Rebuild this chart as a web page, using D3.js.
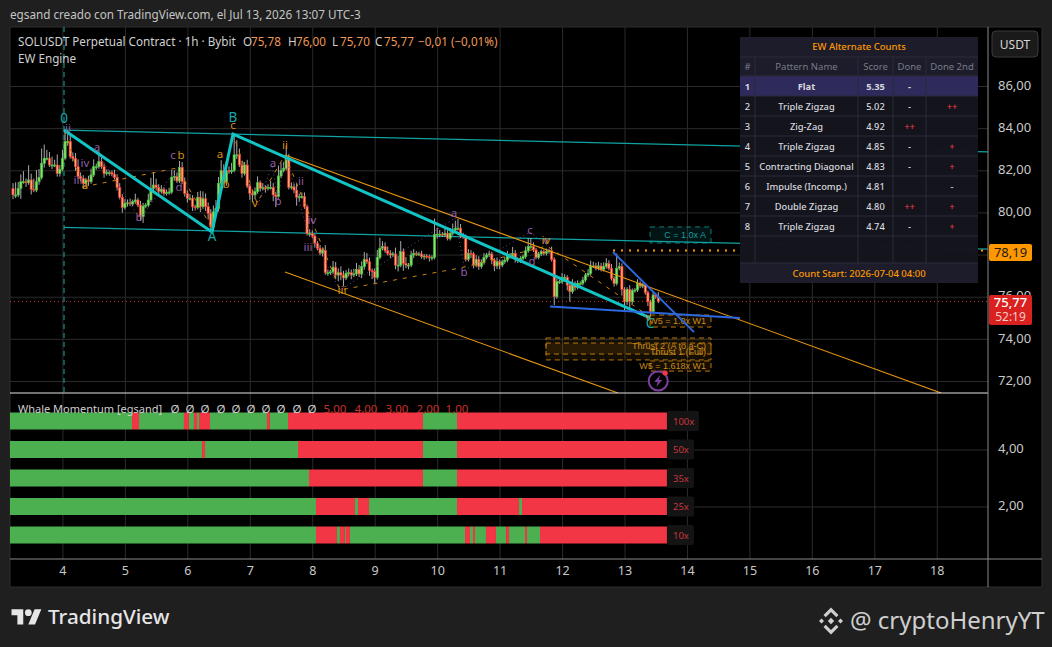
<!DOCTYPE html>
<html lang="es">
<head>
  <meta charset="UTF-8">
  <title>SOLUSDT Perpetual Contract</title>
  <style>
    html, body { margin: 0; padding: 0; background: #1f1f1f; }
    svg { display: block; }
    text { font-family: "Noto Sans", sans-serif; }
  </style>
</head>
<body>
  <svg id="chart" width="1052" height="647"></svg>
  <script src="https://cdnjs.cloudflare.com/ajax/libs/d3/7.8.5/d3.min.js"></script>
  <script>
    // Hourly candles. Open is the previous close.
    const firstDay = 3 + 5 / 24
    const firstOpen = 81.14
    const closes = [
      80.83,80.83,81.14,81.46,81.46,81.41,81.54,81.1,81.06,81.46,81.66,82.33,
      82.57,82.57,82.25,82.25,82.25,81.85,82.05,82.57,83.36,83.36,82.65,82.57,
      82.17,81.7,81.62,81.38,81.54,81.46,81.78,82.17,82.17,82.41,82.17,81.85,
      81.89,81.89,81.82,81.66,81.19,80.72,80.24,80.43,80.46,80.4,80.51,80.59,
      80.35,79.8,80.3,80.35,80.59,81.14,81.3,81.19,80.99,81.1,80.9,80.94,
      80.97,81.66,81.7,81.49,82.14,81.46,80.9,80.67,80.67,80.27,80.24,80.72,
      80.27,80.65,80.27,79.96,79.32,80.03,80.19,81.38,81.98,81.46,81.98,81.93,
      82.0,82.73,82.73,82.25,81.85,82.25,81.25,80.9,80.83,80.99,81.41,81.14,
      81.19,81.14,81.19,81.19,80.83,80.75,81.73,82.0,82.09,82.57,81.19,81.22,
      81.06,80.72,80.75,80.75,80.27,79.0,79.0,78.88,78.53,78.3,78.07,78.2,
      77.14,77.14,77.18,77.4,77.03,77.14,77.03,76.89,77.11,77.14,77.03,77.08,
      77.3,77.08,77.43,77.77,77.66,77.24,77.19,76.92,77.87,78.3,78.38,78.18,
      78.06,77.98,78.03,77.5,77.5,78.14,77.58,77.5,77.5,77.98,78.06,78.03,
      78.03,77.9,77.93,77.9,77.87,77.87,78.96,78.97,78.97,78.93,79.01,78.77,
      79.01,79.17,79.25,79.25,78.88,78.85,77.77,78.06,78.03,77.5,77.77,77.43,
      77.62,77.87,77.98,78.03,77.74,77.46,77.66,77.5,77.66,77.74,77.98,77.9,
      78.06,77.77,77.7,77.82,77.9,78.18,78.38,78.38,78.22,77.87,78.03,78.14,
      78.06,78.14,78.18,77.77,76.0,76.71,76.71,76.92,76.92,76.55,76.24,76.63,
      76.44,76.63,76.63,76.79,77.03,77.11,77.46,77.46,77.35,77.46,77.3,77.43,
      77.58,77.35,76.87,76.63,77.35,77.43,76.35,75.76,76.35,75.76,76.29,76.32,
      76.63,76.51,76.55,76.19,75.76,75.29,76.08,76.0,75.77
    ]
    const wickUp = [
      .25,.6,.3,.35,.5,.15,.7,.3,.5,.55,.4,.7,
      .65,.4,.3,.4,.25,.5,.2,.4,.55,.35,.3,.2,
      .25,.35,.2,.15,.1,.2,.3,.35,.15,.5,.2,.15,
      .15,.1,.1,.2,.15,.2,.15,.2,.15,.2,.1,.3,
      .1,.2,.15,.1,.3,.5,.6,.3,.15,.2,.1,.15,
      .2,.35,.3,.2,.3,.25,.2,.15,.2,.15,.1,.25,
      .3,.35,.25,.2,.2,.3,.4,.3,.5,.3,.25,.2,
      .35,.97,.7,.3,.2,.15,.25,.1,.15,.2,.3,.1,
      .2,.1,.15,.3,.2,.15,.5,.35,.3,.6,.2,.2,
      .15,.3,.15,.2,.2,.1,.2,.15,.1,.1,.15,.1,
      .25,.15,.1,.3,.25,.2,.3,.2,.15,.2,.15,.25,
      .3,.2,.25,.35,.3,.2,.1,.15,.35,.5,.25,.2,
      .2,.15,.1,.3,.45,.5,.15,.3,.1,.2,.2,.1,
      .1,.15,.1,.1,.1,.1,.75,.3,.2,.1,.3,.15,
      .25,.3,.35,.45,.2,.15,.1,.2,.15,.1,.2,.15,
      .15,.2,.1,.15,.1,.1,.2,.1,.1,.15,.2,.1,
      .3,.15,.1,.1,.1,.2,.4,.4,.2,.1,.1,.1,
      .1,.15,.1,.2,.1,.15,.1,.2,.15,.1,.1,.2,
      .1,.15,.1,.15,.1,.2,.25,.2,.15,.2,.15,.2,
      .25,.15,.2,.1,.7,.2,.15,.1,.1,.2,.1,.1,
      .2,.1,.1,.1,.1,.1,.15,.1,.23
    ]
    const wickDown = [
      .2,.15,.1,.5,.1,.2,.1,.25,.1,.1,.15,.1,
      .2,.1,.1,.2,.1,.15,.15,.1,.1,.2,.1,.15,
      .2,.1,.15,.25,.1,.2,.1,.1,.15,.1,.1,.2,
      .1,.15,.1,.1,.15,.1,.25,.1,.15,.1,.1,.1,
      .1,.2,.3,.1,.1,.1,.2,.15,.2,.1,.1,.1,
      .1,.1,.15,.1,.1,.1,.15,.2,.1,.2,.15,.1,
      .25,.1,.2,.3,.25,.2,.2,.15,.1,.1,.2,.1,
      .1,.1,.2,.1,.2,.1,.1,.3,.35,.2,.1,.15,
      .1,.2,.1,.1,.3,.5,.1,.1,.1,.1,.1,.1,
      .15,.4,.2,.1,.1,.1,.15,.1,.2,.1,.1,.15,
      .1,.15,.1,.1,.2,.3,.25,.4,.1,.15,.2,.1,
      .1,.15,.2,.15,.1,.25,.35,.3,.1,.1,.1,.1,
      .1,.15,.1,.2,.3,.1,.35,.15,.2,.1,.15,.1,
      .1,.1,.15,.1,.2,.15,.1,.2,.15,.1,.1,.1,
      .1,.1,.1,.1,.1,.1,.1,.1,.2,.15,.1,.15,
      .1,.1,.1,.1,.2,.25,.15,.2,.1,.1,.1,.1,
      .1,.15,.1,.1,.1,.1,.1,.1,.1,.1,.1,.1,
      .1,.1,.1,.1,.4,.1,.1,.1,.1,.25,.48,.1,
      .15,.1,.1,.1,.1,.1,.1,.1,.1,.1,.1,.1,
      .1,.1,.1,.15,.1,.1,.3,.4,.15,.3,.1,.1,
      .1,.1,.1,.1,.2,.15,.1,.1,.07
    ]

    // Axis ticks
    const dayTicks = d3.range(4, 19)
    const priceTicks = [72, 74, 76, 78, 80, 82, 84, 86]
    const whaleTicks = [2, 4]

    // Whale Momentum rows: start day of each stretch, green first, colours alternate
    const whaleLevels = [5, 4, 3, 2, 1]
    const whaleNames = ['100x', '50x', '35x', '25x', '10x']
    const whaleFlips = [
      [3.16, 5.114, 5.226, 5.946, 6.026, 6.106, 6.155, 6.187, 6.363, 7.275, 7.323, 7.612, 9.773, 10.318, 13.68],
      [3.16, 6.235, 6.283, 7.772, 9.773, 10.318, 13.68],
      [3.16, 7.948, 9.773, 10.318, 13.68],
      [3.16, 8.06, 8.685, 8.733, 8.909, 10.318, 11.311, 11.359, 13.68],
      [3.16, 8.06, 8.396, 8.444, 8.524, 8.54, 8.604, 10.446, 10.526, 10.574, 10.606, 10.782, 10.942, 11.103, 11.151, 11.407, 11.439, 11.647, 13.68]
    ]
    const whaleSymbols = ['Ø','Ø','Ø','Ø','Ø','Ø','Ø','Ø','Ø','Ø','5,00','4,00','3,00','2,00','1,00']
    const whaleSymbolX = [175,190,205,221,236,251,266,281,297,312,335,366,397,428,457]

    // Wave structure as [day, price]
    const mainWave = [[4.025, 83.91], [6.395, 79.07], [6.731, 83.72], [13.41, 74.99]]
    const tealUpper = [[4.025, 83.91], [18.82, 82.87]]
    const tealLower = [[4.025, 79.29], [18.82, 78.26]]
    const orangeUpper = [[7.564, 82.73], [18.07, 71.43]]
    const orangeLower = [[7.564, 77.17], [12.896, 71.43]]
    const blueBase = [[11.807, 75.53], [14.85, 74.99]]
    const blueTop = [[12.816, 78.12], [14.113, 74.32]]
    const minorOrange = [[4.025,83.91],[4.329,81.21],[5.834,82.11],[6.395,79.26],[6.555,81.54],[6.731,83.72],[7.115,80.45],[7.564,82.73],[8.444,76.32],[10.366,77.36],[11.759,78.41],[13.41,75.04]]
    const minorPurple = [
      [[4.025,83.91],[4.553,82.87],[5.242,79.69],[5.834,82.11]],
      [[7.131,80.35],[7.356,82.25],[7.452,80.59],[7.564,82.73],[7.9,79.4],[8.444,76.32]],
      [[8.444,76.32],[10.286,79.73],[10.446,77.27],[11.487,79.07],[11.759,78.45]]
    ]

    // Wave labels as [text, day, price]
    const cyanLabels = [['0',4.025,84.48],['B',6.731,84.53],['A',6.395,78.88],['C',13.41,74.75]]
    const orangeLabels = [['c',6.731,84.15],['a',4.361,81.3],['b',5.898,82.73],['a',6.523,82.77],['b',6.619,81.35],['ii',7.564,83.2],['v',7.083,80.45],['iii',8.476,76.32],['iv',11.743,78.69],['v',13.376,75.04]]
    const purpleLabels = [['ii',4.089,84.0],['a',4.553,83.1],['iv',4.361,82.35],['iii',4.249,81.54],['b',5.226,79.78],['c',5.77,82.73],['d',5.866,81.2],['a',7.371,82.35],['b',7.452,80.54],['ii',7.82,81.49],['iv',7.996,79.64],['iii',7.932,78.36],['a',10.27,79.97],['b',10.43,77.17],['c',11.487,79.17],['d',11.519,77.7],['v',11.743,78.69]]

    // Target boxes as [text, day from, day to, price top, price bottom]
    const orangeBoxes = [
      ['W5 = 1.0x W1', 13.41, 14.385, 75.13, 74.56],
      ['Thrust 2 (A to a-C)', 11.743, 14.385, 74.04, 73.28],
      ['Thrust 1 (Full)', 11.743, 14.385, 73.8, 73.0],
      ['W5 = 1.618x W1', 13.41, 14.385, 72.95, 72.47]
    ]
    const tealBoxes = [['C = 1.0x A', 13.41, 14.385, 79.31, 78.55]]

    const targetPrice = 78.19
    const targetStartDay = 12.816
    const lastPrice = 75.77
    const countdown = '52:19'

    // Alternate counts table
    const tableHeaders = ['#', 'Pattern Name', 'Score', 'Done', 'Done 2nd']
    const patternNames = ['Flat', 'Triple Zigzag', 'Zig-Zag', 'Triple Zigzag', 'Contracting Diagonal', 'Impulse (Incomp.)', 'Double Zigzag', 'Triple Zigzag']
    const patternScores = ['5.35', '5.02', '4.92', '4.85', '4.83', '4.81', '4.80', '4.74']
    const patternDone = ['-', '-', '++', '-', '-', '', '++', '-']
    const patternDone2 = ['', '++', '', '+', '+', '-', '+', '+']

    const svg = d3.select('#chart')
    const panel = { left: 10, right: 1042, top: 27, bottom: 587, axisX: 988, paneBottom: 393, timeY: 559 }

    const x = d3.scaleLinear().domain([4, 18]).range([62.45, 936.75])
    const y = d3.scaleLinear().domain([86, 72]).range([86, 381])
    const yWhale = d3.scaleLinear().domain([4, 2]).range([449.5, 506.5])
    const comma = d => d.toFixed(2).replace('.', ',')
    const lineOf = d3.line().x(d => x(d[0])).y(d => y(d[1]))

    // Panel
    svg.append('rect').attr('width', 1052).attr('height', 647).attr('fill', '#1f1f1f')
    svg.append('rect')
      .attr('x', panel.left).attr('y', panel.top)
      .attr('width', panel.right - panel.left).attr('height', panel.bottom - panel.top)
      .attr('fill', '#000').attr('stroke', '#2e2e2e')

    const defs = svg.append('defs')
    defs.append('clipPath').attr('id', 'mainClip').append('rect')
      .attr('x', panel.left).attr('y', panel.top)
      .attr('width', panel.axisX - panel.left).attr('height', panel.paneBottom - panel.top)
    defs.append('clipPath').attr('id', 'whaleClip').append('rect')
      .attr('x', panel.left).attr('y', panel.paneBottom)
      .attr('width', panel.axisX - panel.left).attr('height', panel.timeY - panel.paneBottom)

    // Grid and axes
    const styleAxis = (g, size) => {
      g.select('.domain').remove()
      g.selectAll('.tick line').attr('stroke', '#2b2b2b')
      g.selectAll('.tick text').attr('fill', '#c9c9c9').attr('font-size', size)
    }
    svg.append('g')
      .attr('transform', `translate(0,${panel.timeY})`)
      .call(d3.axisBottom(x).tickValues(dayTicks).tickFormat(d3.format('d')).tickSize(-(panel.timeY - panel.top)).tickPadding(7))
      .call(g => styleAxis(g, 12.5))
    // 78,00 sits fully behind the orange target tag, so only its grid line is drawn
    svg.append('g')
      .attr('transform', `translate(${panel.axisX},0)`)
      .call(d3.axisRight(y).tickValues(priceTicks).tickFormat(d => d === 78 ? '' : comma(d)).tickSize(-(panel.axisX - panel.left)).tickPadding(10))
      .call(g => styleAxis(g, 13))
      .call(g => g.selectAll('.tick text').attr('dy', '0.25em'))
    svg.append('g')
      .attr('transform', `translate(${panel.axisX},0)`)
      .call(d3.axisRight(yWhale).tickValues(whaleTicks).tickFormat(comma).tickSize(-(panel.axisX - panel.left)).tickPadding(10))
      .call(g => styleAxis(g, 13))
      .call(g => g.selectAll('.tick text').attr('dy', '0.25em'))

    // Price pane
    const main = svg.append('g').attr('clip-path', 'url(#mainClip)')

    main.append('line')
      .attr('x1', panel.left).attr('x2', panel.axisX)
      .attr('y1', y(lastPrice)).attr('y2', y(lastPrice))
      .attr('stroke', '#c8302c').attr('stroke-dasharray', '1 3')
    main.append('line')
      .attr('x1', x(4.025)).attr('x2', x(4.025))
      .attr('y1', panel.top).attr('y2', panel.paneBottom)
      .attr('stroke', '#0f8f8f').attr('stroke-width', 1.2).attr('stroke-dasharray', '5 4')

    // Boxes sit under the candles
    const drawBox = (rows, stroke, fill, textFill) => {
      const g = main.append('g').selectAll('g').data(rows).enter().append('g')
      g.append('rect')
        .attr('x', d => x(d[1])).attr('width', d => x(d[2]) - x(d[1]))
        .attr('y', d => y(d[3])).attr('height', d => y(d[4]) - y(d[3]))
        .attr('fill', fill).attr('stroke', stroke).attr('stroke-dasharray', '5 4')
      g.append('text')
        .attr('x', d => x(d[2]) - 5).attr('y', d => (y(d[3]) + y(d[4])) / 2 + 3)
        .attr('text-anchor', 'end').attr('font-size', 9).attr('fill', textFill)
        .style('font-family', '"Liberation Sans", sans-serif')
        .text(d => d[0])
    }
    drawBox(tealBoxes, '#0f7d7d', 'rgba(15,125,125,0.16)', '#1a9c9c')
    drawBox(orangeBoxes, '#b8760f', 'rgba(230,150,20,0.09)', '#c98a1a')

    // Thin channels
    const addLine = (parent, data, stroke, width, dash) => parent.append('path')
      .datum(data).attr('d', lineOf).attr('fill', 'none')
      .attr('stroke', stroke).attr('stroke-width', width).attr('stroke-dasharray', dash || null)

    addLine(main, tealUpper, '#0fa3a3', 1.2)
    addLine(main, tealLower, '#0fa3a3', 1.2)

    // Candles
    const candles = closes.map((c, i) => {
      const o = i === 0 ? firstOpen : closes[i - 1]
      return { day: firstDay + i / 24, o, c, h: Math.max(o, c) + wickUp[i], l: Math.min(o, c) - wickDown[i] }
    })
    const candle = main.append('g').selectAll('g').data(candles).enter().append('g')
    candle.append('line')
      .attr('x1', d => x(d.day)).attr('x2', d => x(d.day))
      .attr('y1', d => y(d.h)).attr('y2', d => y(d.l))
      .attr('stroke', '#bdbdbd').attr('stroke-width', 0.9)
    candle.append('rect')
      .attr('x', d => x(d.day) - 1.1).attr('width', 2.2)
      .attr('y', d => y(Math.max(d.o, d.c)))
      .attr('height', d => Math.max(1, Math.abs(y(d.o) - y(d.c))))
      .attr('fill', d => d.c < d.o ? '#ffa877' : '#8fe06a')
      .attr('stroke', d => d.c < d.o ? '#f52f26' : '#3fbf3f')
      .attr('stroke-width', 0.7)

    // Wave lines
    addLine(main, minorOrange, '#c9840f', 1, '4 6')
    minorPurple.forEach(p => addLine(main, p, '#6a4a96', 1, '1 3'))
    addLine(main, orangeUpper, '#e8970f', 1.1)
    addLine(main, orangeLower, '#e8970f', 1.1)
    addLine(main, mainWave, '#12c4c4', 3)
    addLine(main, blueBase, '#2d68e0', 2)
    addLine(main, blueTop, '#2d68e0', 2)

    main.append('line')
      .attr('x1', x(targetStartDay)).attr('x2', panel.axisX)
      .attr('y1', y(targetPrice)).attr('y2', y(targetPrice))
      .attr('stroke', '#ff9800').attr('stroke-width', 2).attr('stroke-dasharray', '2 6')

    // Wave labels
    const drawLabels = (rows, fill, size) => main.append('g').selectAll('text').data(rows).enter().append('text')
      .attr('x', d => x(d[1])).attr('y', d => y(d[2]) + size * 0.36)
      .attr('text-anchor', 'middle').attr('font-size', size).attr('fill', fill)
      .text(d => d[0])
    drawLabels(purpleLabels, '#8e5ea8', 11.5)
    drawLabels(orangeLabels, '#d98e17', 11.5)
    drawLabels(cyanLabels, '#14a9a9', 13.5)

    // Alert icon
    const icon = main.append('g').attr('transform', `translate(${x(13.54)},${y(72.0)})`)
    icon.append('circle').attr('r', 9.5).attr('fill', '#000').attr('stroke', '#7b3fa0').attr('stroke-width', 2)
    icon.append('path').attr('d', 'M2,-6 L-4,1 L-0.5,1 L-2,6 L4,-1 L0.5,-1 Z').attr('fill', '#7b3fa0')
    icon.append('circle').attr('cx', 7).attr('cy', -8).attr('r', 2.6).attr('fill', '#f23645')

    // Pane separator and axis lines
    svg.append('line').attr('x1', panel.left).attr('x2', panel.axisX).attr('y1', panel.paneBottom).attr('y2', panel.paneBottom).attr('stroke', '#e4e4e4').attr('stroke-width', 1)
    svg.append('line').attr('x1', panel.left).attr('x2', panel.right).attr('y1', panel.timeY).attr('y2', panel.timeY).attr('stroke', '#8a8a8a')
    svg.append('line').attr('x1', panel.axisX).attr('x2', panel.axisX).attr('y1', panel.top).attr('y2', panel.bottom).attr('stroke', '#8a8a8a')

    // Whale Momentum pane
    const whale = svg.append('g').attr('clip-path', 'url(#whaleClip)')
    const barHeight = 17
    whaleFlips.forEach((flips, r) => {
      const cy = yWhale(whaleLevels[r])
      whale.append('g').selectAll('rect').data(d3.pairs(flips)).enter().append('rect')
        .attr('x', d => x(d[0])).attr('width', d => x(d[1]) - x(d[0]))
        .attr('y', cy - barHeight / 2).attr('height', barHeight)
        .attr('fill', (d, i) => i % 2 === 0 ? '#4caf50' : '#f23645')
      const tagX = x(flips[flips.length - 1])
      const tagW = whaleNames[r].length > 3 ? 32 : 27
      whale.append('rect')
        .attr('x', tagX).attr('y', cy - 10).attr('width', tagW).attr('height', 20).attr('rx', 2)
        .attr('fill', '#141414')
      whale.append('text')
        .attr('x', tagX + 6).attr('y', cy + 3.5).attr('font-size', 9.5).attr('fill', '#c9363c')
        .text(whaleNames[r])
    })

    const whaleTitle = svg.append('g')
    whaleTitle.append('text').attr('x', 18).attr('y', 413).attr('font-size', 11).attr('fill', '#cfcfcf').text('Whale Momentum [egsand]')
    whaleTitle.selectAll('.sym').data(whaleSymbols).enter().append('text')
      .attr('x', (d, i) => whaleSymbolX[i]).attr('y', 413).attr('text-anchor', 'middle')
      .attr('font-size', 11.5).attr('fill', d => d === 'Ø' ? '#cfcfcf' : '#c9302c')
      .text(d => d)

    // Price tags
    svg.append('rect').attr('x', 989).attr('y', 244).attr('width', 43).attr('height', 17).attr('rx', 2).attr('fill', '#ff9800')
    svg.append('text').attr('x', 1010.5).attr('y', 257).attr('text-anchor', 'middle').attr('font-size', 13).attr('fill', '#1a1a1a').text(comma(targetPrice))
    svg.append('rect').attr('x', 989).attr('y', 295).attr('width', 43).attr('height', 30).attr('rx', 2).attr('fill', '#d9221f')
    svg.append('text').attr('x', 1010.5).attr('y', 307).attr('text-anchor', 'middle').attr('font-size', 13).attr('font-weight', 500).attr('fill', '#fff').text(comma(lastPrice))
    svg.append('text').attr('x', 1010.5).attr('y', 321).attr('text-anchor', 'middle').attr('font-size', 12).attr('fill', '#f6c9c6').text(countdown)

    // USDT button
    svg.append('rect').attr('x', 992).attr('y', 31).attr('width', 46).attr('height', 26).attr('rx', 4).attr('fill', '#1a1a1a').attr('stroke', '#3a3a3a')
    svg.append('text').attr('x', 1015).attr('y', 48.5).attr('text-anchor', 'middle').attr('font-size', 12).attr('fill', '#d6d6d6').text('USDT')

    // Alternate counts table
    const table = svg.append('g')
    const colEdges = [740, 755, 858, 893, 926, 978]
    const colCentres = d3.pairs(colEdges).map(d => (d[0] + d[1]) / 2)
    const tableTop = 37, titleBottom = 57, headBottom = 76, rowH = 20
    const emptyBottom = 263, tableBottom = 283
    table.append('rect').attr('x', colEdges[0]).attr('y', tableTop).attr('width', 238).attr('height', tableBottom - tableTop).attr('fill', '#14141e').attr('fill-opacity', 0.98)
    table.append('rect').attr('x', colEdges[0]).attr('y', tableTop).attr('width', 238).attr('height', headBottom - tableTop).attr('fill', '#1c1c2a')
    table.append('rect').attr('x', colEdges[0]).attr('y', emptyBottom).attr('width', 238).attr('height', tableBottom - emptyBottom).attr('fill', '#1c1c2a')
    table.append('rect').attr('x', colEdges[0]).attr('y', headBottom).attr('width', 238).attr('height', rowH).attr('fill', '#2e2a5c')
    const rowLines = [titleBottom, headBottom].concat(patternNames.map((d, i) => headBottom + rowH * (i + 1)), [emptyBottom])
    table.selectAll('.hl').data(rowLines).enter().append('line')
      .attr('x1', colEdges[0]).attr('x2', colEdges[5]).attr('y1', d => d).attr('y2', d => d).attr('stroke', '#2a2a3a')
    table.selectAll('.vl').data(colEdges.slice(1, 5)).enter().append('line')
      .attr('x1', d => d).attr('x2', d => d).attr('y1', titleBottom).attr('y2', emptyBottom).attr('stroke', '#2a2a3a')
    table.append('text').attr('x', 859).attr('y', 50).attr('text-anchor', 'middle').attr('font-size', 9.5).attr('font-weight', 500).attr('fill', '#ff9800').text('EW Alternate Counts')
    table.append('text').attr('x', 859).attr('y', 277).attr('text-anchor', 'middle').attr('font-size', 9.5).attr('font-weight', 500).attr('fill', '#ff9800').text('Count Start: 2026-07-04 04:00')
    table.selectAll('.head').data(tableHeaders).enter().append('text')
      .attr('x', (d, i) => colCentres[i]).attr('y', 70).attr('text-anchor', 'middle')
      .attr('font-size', 9.5).attr('fill', '#787b86').text(d => d)
    patternNames.forEach((name, i) => {
      const ty = headBottom + rowH * i + 13.5
      const weight = i === 0 ? 700 : 500
      const cells = [String(i + 1), name, patternScores[i], patternDone[i], patternDone2[i]]
      table.append('g').selectAll('text').data(cells).enter().append('text')
        .attr('x', (d, c) => colCentres[c]).attr('y', ty).attr('text-anchor', 'middle')
        .attr('font-size', 9.3).attr('font-weight', weight)
        .attr('fill', d => d.includes('+') ? '#f23645' : '#d8d8de').text(d => d)
    })

    // Header text
    svg.append('text').attr('x', 10).attr('y', 19).attr('font-size', 11.7).attr('fill', '#c4c4c4').text('egsand creado con TradingView.com, el Jul 13, 2026 13:07 UTC-3')
    const legend = svg.append('g').attr('font-size', 11.7)
    const legendTexts = ['SOLUSDT Perpetual Contract · 1h · Bybit', 'O', '75,78', 'H', '76,00', 'L', '75,70', 'C', '75,77', '−0,01 (−0,01%)']
    const legendX = [18, 243, 251, 288, 296, 332, 340, 375, 384, 418]
    legend.selectAll('text').data(legendTexts).enter().append('text')
      .attr('x', (d, i) => legendX[i]).attr('y', 46)
      .attr('fill', (d, i) => i === 0 || d.length === 1 ? '#d0d0d0' : '#ef9a5a')
      .text(d => d)
    svg.append('text').attr('x', 18).attr('y', 63).attr('font-size', 11.7).attr('fill', '#d0d0d0').text('EW Engine')

    // Footer logos
    const tvLogo = svg.append('g').attr('transform', 'translate(11.5,606) scale(0.84)').attr('fill', '#e6e6e6')
    tvLogo.append('path').attr('d', 'M14 22H7V11H0V4h14v18zM28 22h-8l7.5-18h8L28 22z')
    tvLogo.append('circle').attr('cx', 20).attr('cy', 8).attr('r', 4)
    svg.append('text').attr('x', 48).attr('y', 624).attr('font-size', 20.7).attr('font-weight', 500).attr('fill', '#e6e6e6').text('TradingView')

    const bnb = svg.append('g').attr('transform', 'translate(831,621)').attr('fill', '#cfcfcf')
    const chevron = 'M0,-13.5 L7.5,-6 L5.3,-3.8 L0,-9.1 L-5.3,-3.8 L-7.5,-6 Z'
    bnb.append('path').attr('d', chevron)
    bnb.append('path').attr('d', chevron).attr('transform', 'rotate(180)')
    bnb.append('path').attr('d', 'M0,-3.2 L3.2,0 L0,3.2 L-3.2,0 Z')
    bnb.append('path').attr('d', 'M-9.5,-2.5 L-7,0 L-9.5,2.5 L-12,0 Z')
    bnb.append('path').attr('d', 'M9.5,-2.5 L12,0 L9.5,2.5 L7,0 Z')
    svg.append('text').attr('x', 850).attr('y', 629).attr('font-size', 24).attr('fill', '#cfcfcf').text('@ cryptoHenryYT')
  </script>
</body>
</html>
